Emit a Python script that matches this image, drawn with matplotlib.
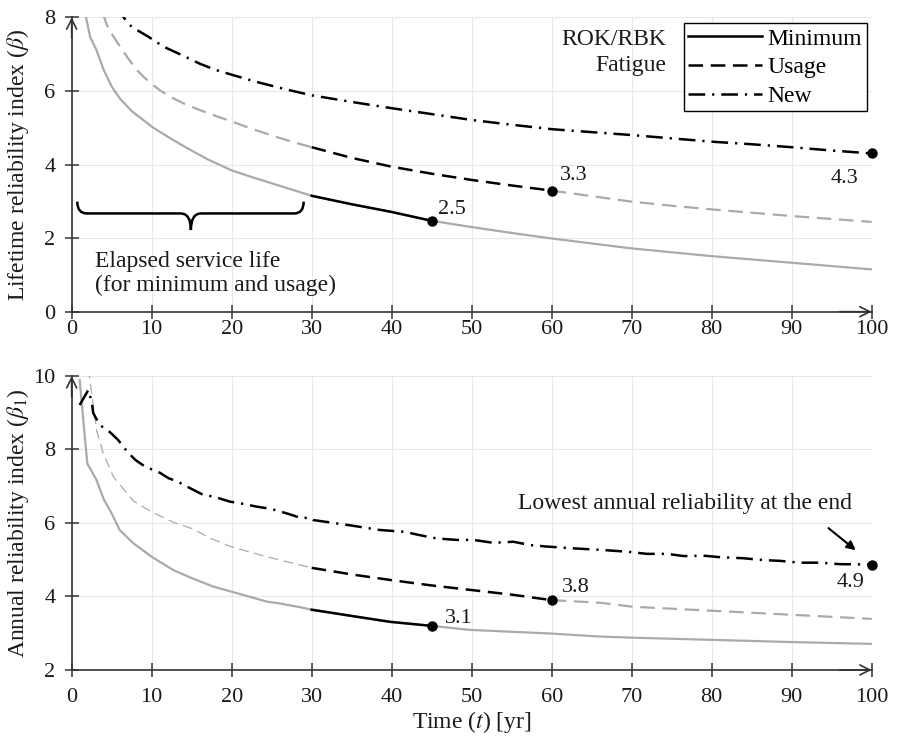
import numpy as np
import matplotlib
matplotlib.use("Agg")
import matplotlib.pyplot as plt
from matplotlib.path import Path
from matplotlib.patches import PathPatch
from matplotlib.lines import Line2D

plt.rcParams['font.family'] = ['Liberation Serif', 'DejaVu Serif']
plt.rcParams['mathtext.fontset'] = 'stix'
plt.rcParams['lines.scale_dashes'] = False
FS = 16      # tick labels and numbers
FT = 17      # word labels

# ---------------- data: lifetime reliability (top) ----------------
t_min_life = [1.7, 1.8, 2.3, 2.7, 3.1, 4.0, 5.0, 6.0, 7.5, 9.0, 10, 11, 12.5, 14.4, 17, 20,
              22.5, 25, 27.5, 30, 35, 40, 45, 50, 55, 60, 70, 80, 90, 100]
b_min_life = [8.4, 8.0, 7.47, 7.29, 7.11, 6.57, 6.12, 5.8, 5.45, 5.2, 5.03, 4.89, 4.69, 4.45, 4.14,
              3.84, 3.66, 3.49, 3.32, 3.15, 2.92, 2.71, 2.47, 2.3, 2.14, 1.99, 1.72, 1.51, 1.33, 1.15]

t_use_life = [3.9, 4.4, 5, 6, 7, 8, 9, 10, 11, 12.5, 14, 16, 18, 20, 22.5, 25, 27.5, 30, 35, 40,
              45, 50, 55, 60, 65, 70, 75, 80, 85, 90, 95, 100]
b_use_life = [8.1, 7.79, 7.55, 7.22, 6.9, 6.6, 6.38, 6.19, 6.02, 5.82, 5.66, 5.48, 5.32, 5.17, 4.97,
              4.79, 4.62, 4.47, 4.18, 3.94, 3.75, 3.58, 3.43, 3.29, 3.14, 2.99, 2.88, 2.78, 2.69,
              2.60, 2.52, 2.44]

t_new_life = [5.5, 6.6, 7.5, 9.6, 11.5, 14, 16, 18, 20, 23, 27, 30, 35, 40, 45, 50, 55, 60, 65, 70,
              75, 80, 85, 90, 95, 100]
b_new_life = [8.3, 7.97, 7.74, 7.47, 7.2, 6.95, 6.74, 6.57, 6.44, 6.25, 6.03, 5.88, 5.7, 5.53,
              5.37, 5.21, 5.08, 4.96, 4.88, 4.80, 4.71, 4.62, 4.55, 4.47, 4.38, 4.30]

# ---------------- data: annual reliability (bottom) ----------------
t_min_ann = [1.0, 1.95, 3.1, 4, 5, 6, 7.7, 10, 12.7, 15, 17.7, 20, 24.4, 26, 28.5, 30, 35, 39.8,
             45, 49.8, 55, 60, 66, 70, 80, 90, 100]
b_min_ann = [9.89, 7.62, 7.17, 6.65, 6.26, 5.81, 5.45, 5.08, 4.72, 4.50, 4.27, 4.13, 3.86, 3.81,
             3.71, 3.64, 3.47, 3.31, 3.20, 3.09, 3.04, 2.99, 2.91, 2.88, 2.82, 2.76, 2.71]

t_use_ann = [2.1, 3.1, 3.95, 5.2, 7.7, 10, 12.7, 15, 17.7, 20, 24.4, 28.5, 30, 35, 39.8, 45, 49.8,
             55, 60, 66, 70.2, 80.2, 90.2, 100]
b_use_ann = [10.2, 8.53, 7.9, 7.26, 6.6, 6.3, 6.02, 5.85, 5.55, 5.35, 5.08, 4.86, 4.78, 4.6, 4.45,
             4.30, 4.18, 4.05, 3.90, 3.83, 3.72, 3.61, 3.50, 3.39]

t_new_ann = [1.0, 2.08, 2.5, 2.7, 3.5, 4.8, 5.8, 7.1, 8, 9.2, 11, 12.1, 13.3, 15.4, 16.5, 17.7, 19.8,
             21, 23, 25, 26.9, 28.9, 29.6, 30.2, 31.5, 35, 38.5, 41.6, 43.5, 45.6, 48.1, 50.2, 52.7,
             55.2, 57.3, 59.3, 62.7, 66, 69.4, 71.9, 74.4, 76.5, 79, 81, 84, 86.5, 88.5, 91, 93.5,
             96, 100]
b_new_ann = [9.21, 9.62, 9.3, 8.99, 8.67, 8.47, 8.26, 7.9, 7.71, 7.53, 7.37, 7.22, 7.12, 6.88, 6.76,
             6.72, 6.58, 6.54, 6.45, 6.38, 6.26, 6.12, 6.16, 6.08, 6.04, 5.93, 5.81, 5.76, 5.67, 5.58,
             5.54, 5.54, 5.46, 5.49, 5.40, 5.36, 5.31, 5.27, 5.22, 5.16, 5.16, 5.10, 5.11, 5.07, 5.04,
             4.99, 4.97, 4.92, 4.92, 4.88, 4.87]

# key points (time) and labels
t_now = 30
t_min_end, t_use_end, t_new_end = 45, 60, 100
labels_life = ['2.5', '3.3', '4.3']
labels_ann = ['3.1', '3.8', '4.9']
legend_labels = ['Minimum', 'Usage', 'New']

GREY = '#aaaaaa'
DASH = (10.5, 5.5)
DASHDOT = (12, 5, 1.6, 5)
TXT = '#1a1a1a'

fig = plt.figure(figsize=(8.97, 7.39), dpi=100)
ax1 = fig.add_axes([0.0799, 0.5782, 0.8919, 0.3984])
ax2 = fig.add_axes([0.0799, 0.0934, 0.8919, 0.3978])


def style(ax, ylim, yticks, xpad):
    ax.set_xlim(0, 100)
    ax.set_ylim(*ylim)
    ax.set_xticks(range(0, 101, 10))
    ax.set_yticks(yticks)
    for s in ['top', 'right']:
        ax.spines[s].set_visible(False)
    for s in ['left', 'bottom']:
        ax.spines[s].set_color('#333333')
        ax.spines[s].set_linewidth(1.2)
    ax.tick_params(direction='inout', length=9.5, width=1.1, color='#333333',
                   labelsize=FS, labelcolor=TXT)
    ax.tick_params(axis='y', pad=7)
    ax.tick_params(axis='x', pad=xpad)
    ax.grid(True, color='#e8e8e8', lw=0.8)
    ax.set_axisbelow(True)
    ap = dict(arrowstyle='->', lw=1.2, color='#333333', mutation_scale=18,
              shrinkA=0, shrinkB=0)
    ax.annotate('', xy=(0, 1), xytext=(0, 0.93), xycoords='axes fraction',
                textcoords='axes fraction', arrowprops=ap, annotation_clip=False)
    ax.annotate('', xy=(1, 0), xytext=(0.96, 0), xycoords='axes fraction',
                textcoords='axes fraction', arrowprops=ap, annotation_clip=False)


def draw(ax, tm, bm, tu, bu, tn, bn, thin_early_usage=False):
    tm, bm, tu, bu, tn, bn = map(np.asarray, (tm, bm, tu, bu, tn, bn))
    # Minimum
    ax.plot(tm, bm, color=GREY, lw=1.6, zorder=2)
    m = (tm >= t_now) & (tm <= t_min_end)
    ax.plot(tm[m], bm[m], color='k', lw=1.8, zorder=3)
    # Usage
    m0 = tu <= t_now
    if thin_early_usage:
        ax.plot(tu[m0], bu[m0], color=GREY, lw=0.9, dashes=(7, 4), zorder=2)
    else:
        ax.plot(tu[m0], bu[m0], color=GREY, lw=1.6, dashes=DASH, zorder=2)
    m1 = (tu >= t_now) & (tu <= t_use_end)
    ax.plot(tu[m1], bu[m1], color='k', lw=1.8, dashes=DASH, zorder=3)
    m2 = tu >= t_use_end
    ax.plot(tu[m2], bu[m2], color=GREY, lw=1.6, dashes=DASH, zorder=2)
    # New
    ax.plot(tn, bn, color='k', lw=1.8, dashes=DASHDOT, zorder=3)
    # end points
    pts = [(t_min_end, np.interp(t_min_end, tm, bm)),
           (t_use_end, np.interp(t_use_end, tu, bu)),
           (t_new_end, np.interp(t_new_end, tn, bn))]
    for x, y in pts:
        ax.plot([x], [y], 'o', color='k', ms=6.5, zorder=5, clip_on=False)
    return pts


style(ax1, (0, 8), range(0, 9, 2), xpad=1)
style(ax2, (2, 10), range(2, 11, 2), xpad=8)

p1 = draw(ax1, t_min_life, b_min_life, t_use_life, b_use_life, t_new_life, b_new_life)
p2 = draw(ax2, t_min_ann, b_min_ann, t_use_ann, b_use_ann, t_new_ann, b_new_ann,
          thin_early_usage=True)

# value labels (offsets in points)
offs1 = [((4.5, 4.8), 'left'), ((6, 7.4), 'left'), ((-9.6, -21), 'right')]
offs2 = [((9.6, 2.2), 'left'), ((7.2, 6), 'left'), ((-5.5, -16), 'right')]
for ax, pts, labs, offs in [(ax1, p1, labels_life, offs1), (ax2, p2, labels_ann, offs2)]:
    for (x, y), lab, (off, ha) in zip(pts, labs, offs):
        ax.annotate(lab, xy=(x, y), xytext=off, textcoords='offset points',
                    ha=ha, va='baseline', fontsize=FS, color=TXT)

# legend
handles = [Line2D([], [], color='k', lw=1.8),
           Line2D([], [], color='k', lw=1.8, dashes=DASH),
           Line2D([], [], color='k', lw=1.8, dashes=DASHDOT)]
leg = ax1.legend(handles, legend_labels, loc='upper right', bbox_to_anchor=(0.9938, 0.9796),
                 frameon=True, fancybox=False, edgecolor='k', framealpha=1,
                 handlelength=3.1, handletextpad=0.25, borderpad=0.2, labelspacing=0.3,
                 fontsize=FT, borderaxespad=0)
leg.get_frame().set_linewidth(1.0)
ax1.text(74.3, 7.04, 'ROK/RBK\nFatigue', ha='right', va='center', multialignment='right',
         fontsize=FT, linespacing=1.35, color=TXT)

# brace for elapsed service life
verts = [(0.7, 2.99), (0.7, 2.67), (1.9, 2.67),
         (13.6, 2.67),
         (14.9, 2.67), (14.9, 2.22),
         (14.9, 2.67), (16.2, 2.67),
         (27.8, 2.67),
         (29.0, 2.67), (29.0, 2.99)]
codes = [Path.MOVETO, Path.CURVE3, Path.CURVE3, Path.LINETO, Path.CURVE3, Path.CURVE3,
         Path.CURVE3, Path.CURVE3, Path.LINETO, Path.CURVE3, Path.CURVE3]
ax1.add_patch(PathPatch(Path(verts, codes), fill=False, lw=1.8, edgecolor='k', zorder=4))
ax1.text(2.9, 1.66, 'Elapsed service life\n(for minimum and usage)', ha='left', va='top',
         fontsize=FT, linespacing=1.22, color=TXT)

# annotation bottom
ax2.text(76.7, 6.52, 'Lowest annual reliability at the end', ha='center', va='center',
         fontsize=FT, color=TXT)
ax2.annotate('', xy=(98.0, 5.26), xytext=(94.6, 5.86),
             arrowprops=dict(arrowstyle='-|>', color='k', lw=1.5, mutation_scale=13,
                             shrinkA=0, shrinkB=0))

ax1.set_ylabel(r'Lifetime reliability index ($\beta$)', fontsize=FT, color=TXT)
ax1.yaxis.set_label_coords(-0.051, 0.5)
ax2.set_ylabel(r'Annual reliability index ($\beta_1$)', fontsize=FT, color=TXT)
ax2.yaxis.set_label_coords(-0.051, 0.5)
ax2.set_xlabel(r'Time ($t$) [yr]', fontsize=FT, labelpad=2, color=TXT)

fig.savefig('out.png', dpi=100)
